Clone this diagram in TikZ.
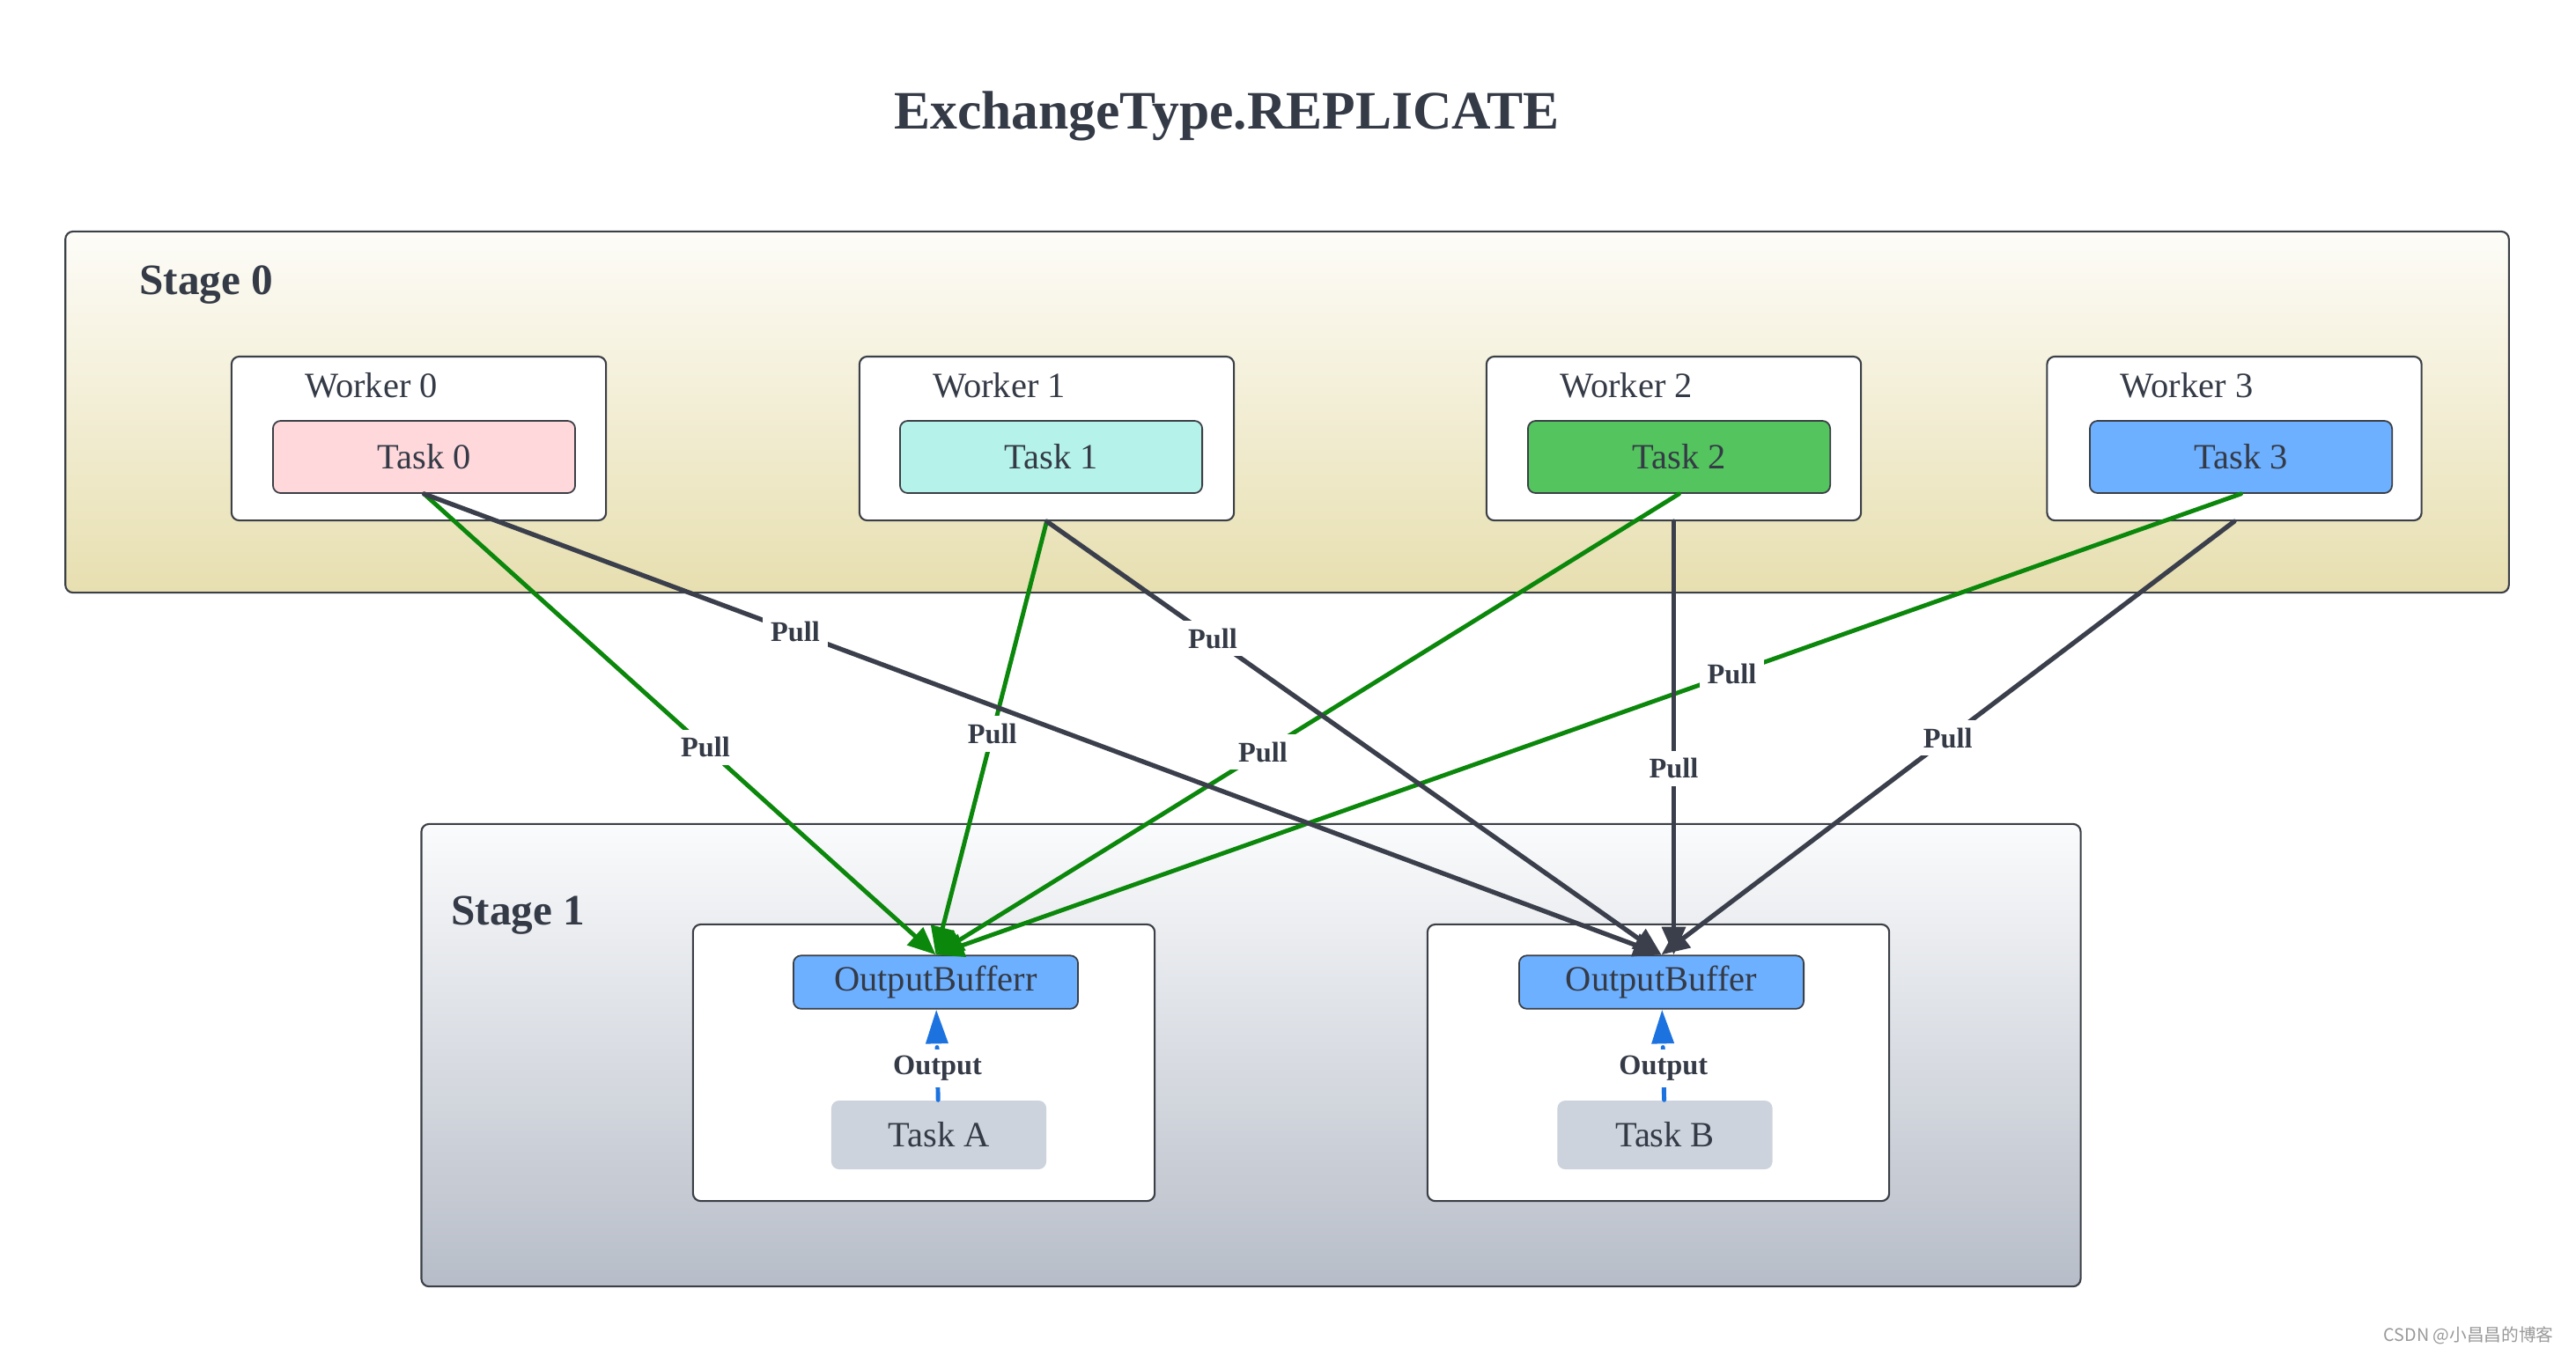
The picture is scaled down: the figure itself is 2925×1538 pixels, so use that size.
\documentclass[tikz,border=0pt]{standalone}
\usepackage{fontspec}
\setmainfont{Liberation Serif}
\newfontfamily\cjkfont{Noto Sans CJK SC}
\usetikzlibrary{arrows.meta}

\definecolor{inkdark}{HTML}{343A46}
\definecolor{boxline}{HTML}{3B3F46}
\definecolor{edgedark}{HTML}{3A3F4B}
\definecolor{edgegreen}{HTML}{0B870B}
\definecolor{outblue}{HTML}{1C73E0}
\definecolor{stagezerotop}{RGB}{253,252,248}
\definecolor{stagezerobot}{RGB}{231,223,176}
\definecolor{stageonetop}{RGB}{250,251,252}
\definecolor{stageonebot}{RGB}{183,189,200}
\definecolor{taskpink}{HTML}{FFD8DC}
\definecolor{taskmint}{HTML}{B5F3EA}
\definecolor{taskgreen}{HTML}{54C45E}
\definecolor{taskblue}{HTML}{6DB0FF}
\definecolor{taskgray}{HTML}{CDD3DC}

\begin{document}
\begin{tikzpicture}[x=0.01cm, y=-0.01cm, >=Latex, line cap=round, line join=round,
	font=\fontsize{11.5}{13}\selectfont, text=inkdark,
	stage/.style={draw=boxline, line width=0.6pt, rounded corners=2.5pt},
	worker/.style={draw=boxline, fill=white, line width=0.6pt, rounded corners=2.5pt,
		minimum width=4.25cm, minimum height=1.86cm},
	task/.style={draw=boxline, line width=0.5pt, rounded corners=2.5pt,
		minimum width=3.43cm, minimum height=0.82cm},
	buffer/.style={draw=boxline, fill=taskblue, line width=0.5pt, rounded corners=2.5pt,
		minimum width=3.23cm, minimum height=0.59cm},
	runner/.style={fill=taskgray, rounded corners=2.5pt,
		minimum width=2.44cm, minimum height=0.78cm},
	pull/.style={fill=white, text=inkdark, font=\bfseries\fontsize{9.2}{10}\selectfont, inner sep=2.5pt},
	pullgreen/.style={draw=edgegreen, line width=1.4pt, -{Triangle[length=9pt,width=7.5pt]}},
	pulldark/.style={draw=edgedark, line width=1.5pt, -{Triangle[length=9pt,width=7.5pt]}},
	outarrow/.style={draw=outblue, line width=1.4pt, dash pattern=on 4pt off 2.5pt,
		-{Triangle[length=11pt,width=7pt]}},
	]

\fill[white] (0,0) rectangle (2925,1538);
\useasboundingbox (0,0) rectangle (2925,1538);

\node[font=\bfseries\fontsize{17.5}{20}\selectfont] (title) at (1393,132) {ExchangeType.REPLICATE};

%========================
% Stage 0: workers
%========================
\node[stage, top color=stagezerotop, bottom color=stagezerobot,
	minimum width=27.73cm, minimum height=4.10cm] (stage0) at (1461.5,468) {};
\node[anchor=west, font=\bfseries\fontsize{14}{16}\selectfont] (stage0lbl) at (146,324) {Stage 0};

\node[worker] (w0) at (475.5,498) {};
\node[worker] (w1) at (1188.5,498) {};
\node[worker] (w2) at (1900.5,498) {};
\node[worker] (w3) at (2537,498) {};
\node (w0lbl) at (421.5,438) {Worker 0};
\node (w1lbl) at (1134.5,438) {Worker 1};
\node (w2lbl) at (1846.5,438) {Worker 2};
\node (w3lbl) at (2483,438) {Worker 3};

\node[task, fill=taskpink] (t0) at (481.5,519) {Task 0};
\node[task, fill=taskmint] (t1) at (1193.5,519) {Task 1};
\node[task, fill=taskgreen] (t2) at (1906.5,519) {Task 2};
\node[task, fill=taskblue] (t3) at (2544.5,519) {Task 3};

%========================
% Stage 1: output buffers
%========================
\node[stage, top color=stageonetop, bottom color=stageonebot,
	minimum width=18.83cm, minimum height=5.25cm] (stage1) at (1420.5,1198.5) {};
\node[anchor=west, font=\bfseries\fontsize{14}{16}\selectfont] (stage1lbl) at (500,1040) {Stage 1};

\node[worker, minimum width=5.24cm, minimum height=3.14cm] (na) at (1049,1207) {};
\node[worker, minimum width=5.24cm, minimum height=3.14cm] (nb) at (1883,1207) {};

\node[buffer] (ob1) at (1062.5,1115.5) {OutputBufferr};
\node[buffer] (ob2) at (1886.5,1115.5) {OutputBuffer};
\node[runner] (ta) at (1066,1289) {Task A};
\node[runner] (tb) at (1890.5,1289) {Task B};

% local output
\draw[outarrow] (ta) -- node[pull, pos=0.35, inner sep=2pt] {Output} (ob1);
\draw[outarrow] (tb) -- node[pull, pos=0.35, inner sep=2pt] {Output} (ob2);

%========================
% Pull edges (every task feeds both buffers)
%========================
\draw[pullgreen] (t0.south) -- node[pull, pos=0.55] {Pull} (ob1.north);
\draw[pullgreen] (w1.south) -- node[pull, pos=0.49] {Pull} (ob1.north);
\draw[pullgreen] (t2.south) -- node[pull, pos=0.56] {Pull} (ob1.north);
\draw[pullgreen] (t3.south) -- node[pull, pos=0.39] {Pull} (ob1.north);

\draw[pulldark] (t0.south) -- node[pull, pos=0.30] {Pull} (ob2.north);
\draw[pulldark] (w1.south) -- node[pull, pos=0.27] {Pull} (ob2.north);
\draw[pulldark] (w2.south) -- node[pull, pos=0.57] {Pull} (w2.south |- ob2.north);
\draw[pulldark] (w3.south) -- node[pull, pos=0.50] {Pull} (ob2.north);

\node[anchor=east, text=gray!80, font=\cjkfont\fontsize{5.6}{7}\selectfont] (mark) at (2912,1517) {CSDN @小昌昌的博客};

\end{tikzpicture}
\end{document}
